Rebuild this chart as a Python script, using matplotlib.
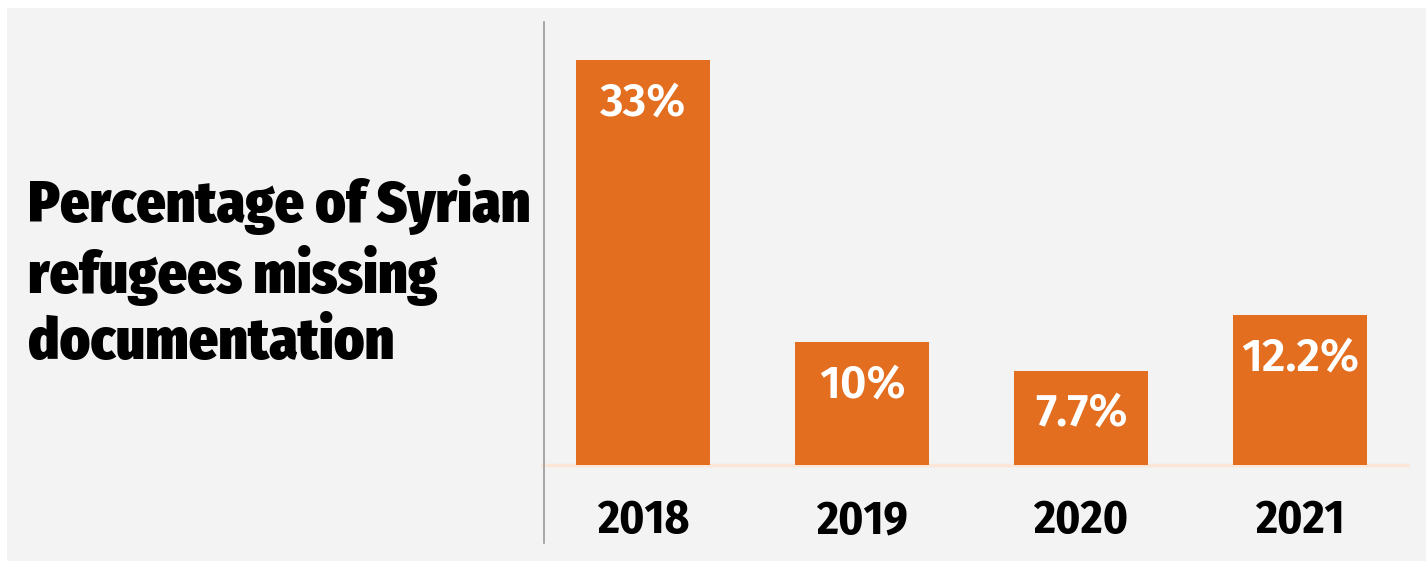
import matplotlib
matplotlib.use('Agg')
import matplotlib.pyplot as plt
from matplotlib.patches import Rectangle
from matplotlib.lines import Line2D

# Dados
years = ['2018', '2019', '2020', '2021']
missing_pct = [33, 10, 7.7, 12.2]
value_labels = ['33%', '10%', '7.7%', '12.2%']
title = 'Percentage of Syrian\nrefugees missing\ndocumentation'

W, H = 1426, 561
bar_color = '#e36e1f'
bg_color = '#f3f3f3'

fig = plt.figure(figsize=(W / 100, H / 100), dpi=100, facecolor='white')

# Painel cinza de fundo
fig.patches.append(Rectangle((7 / W, 0), 1 - 7 / W, 1 - 8 / H, transform=fig.transFigure,
                             facecolor=bg_color, edgecolor='none', zorder=-1))

# Eixo das barras (0 fica na linha de base)
px_per_unit = 405 / 33
ax_top, ax_bot, base = 22, 543, 465
ax = fig.add_axes([541 / W, (H - ax_bot) / H, (1410 - 541) / W, (ax_bot - ax_top) / H])
ax.set_facecolor('none')
ax.set_ylim(-(ax_bot - base) / px_per_unit, (base - ax_top) / px_per_unit)
ax.set_xlim(-(643 - 541) / 219, (1410 - 643) / 219)
for s in ax.spines.values():
    s.set_visible(False)
ax.set_xticks([])
ax.set_yticks([])

x = list(range(len(years)))
ax.bar(x, missing_pct, width=134 / 219, color=bar_color, zorder=2)
ax.axhline(0, color='#fce6d8', lw=2.5, zorder=1)

for xi, v, lab in zip(x, missing_pct, value_labels):
    ax.annotate(lab, (xi, v), xytext=(0, -15), textcoords='offset points',
                ha='center', va='top', color='white', fontsize=33,
                fontfamily='Fira Sans', fontweight=600, zorder=3)

for xi, yr in zip(x, years):
    ax.text(xi, -(521 - base) / px_per_unit, yr, ha='center', va='center',
            fontsize=34, fontweight='bold', color='black',
            fontfamily='Fira Sans Condensed')

# Linha vertical separando o título
fig.add_artist(Line2D([544 / W, 544 / W], [(H - 543) / H, (H - 22) / H],
                      transform=fig.transFigure, color='#9a9a9a', lw=1.2))

fig.text(28 / W, (H - 174) / H, title, ha='left', va='top', fontsize=41.3,
         fontweight=900, linespacing=1.2, color='black',
         fontfamily='Fira Sans Condensed')

fig.savefig('out.png', dpi=100, facecolor='white')
